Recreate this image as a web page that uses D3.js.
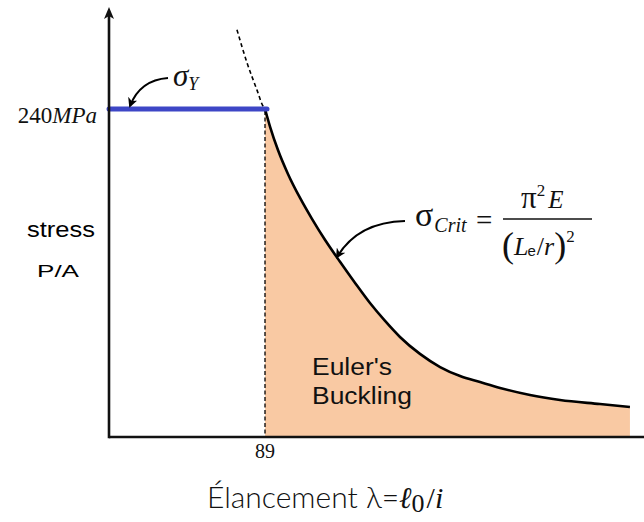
<!DOCTYPE html>
<html>
<head>
<meta charset="utf-8">
<script src="https://cdn.jsdelivr.net/npm/d3@7"></script>
<style>
  html, body { margin: 0; padding: 0; background: #fff; }
  svg { display: block; }
</style>
</head>
<body>
<svg id="chart" width="644" height="522"></svg>
<script>
// Yield plateau and the slenderness where Euler buckling takes over
const yieldStress = 240;      // MPa
const lambdaLimit = 89;

// Euler curve (solid part, below yield): slenderness vs critical stress
const eulerLambda = [89, 91.9, 96.4, 102.1, 109, 115.8, 123.2, 131.8, 140.3, 148.9, 157.5, 166, 177.4, 188.9, 200.3, 211.7, 223.1, 240.2, 257.3, 280.1, 297.2];
const eulerSigma  = [240, 227, 210, 192.5, 174.9, 159.6, 144.3, 128.2, 112.9, 98, 84.9, 73.2, 60.8, 51.2, 44.6, 40.2, 35.9, 30.7, 27.1, 24.1, 21.9];

// Euler curve continued above yield (dashed, not governing)
const dashLambda = [73, 78.7, 84.4, 87.9, 89];
const dashSigma  = [298, 274, 254, 242, 240];

const svg = d3.select("#chart");

const x = d3.scaleLinear().domain([0, 305]).range([109, 109 + 305 * 156 / 89]);
const y = d3.scaleLinear().domain([0, 320]).range([437, 437 - 320 * 328 / 240]);

const eulerPts = eulerLambda.map((l, i) => [l, eulerSigma[i]]);
const dashPts = dashLambda.map((l, i) => [l, dashSigma[i]]);

// Buckling region under the Euler curve
const area = d3.area()
  .x(d => x(d[0]))
  .y0(y(0))
  .y1(d => y(d[1]))
  .curve(d3.curveMonotoneX);
svg.append("path")
  .datum(eulerPts)
  .attr("d", area)
  .attr("fill", "#f9c9a3");

const line = d3.line()
  .x(d => x(d[0]))
  .y(d => y(d[1]))
  .curve(d3.curveMonotoneX);

svg.append("path")
  .datum(eulerPts)
  .attr("d", line)
  .attr("fill", "none")
  .attr("stroke", "#000")
  .attr("stroke-width", 2.6);

svg.append("path")
  .datum(dashPts)
  .attr("d", line)
  .attr("fill", "none")
  .attr("stroke", "#000")
  .attr("stroke-width", 1.6)
  .attr("stroke-dasharray", "4,3");

// Dashed drop from the transition point to the axis
svg.append("line")
  .attr("x1", x(lambdaLimit)).attr("x2", x(lambdaLimit))
  .attr("y1", y(yieldStress) + 2).attr("y2", y(0))
  .attr("stroke", "#000")
  .attr("stroke-width", 1.3)
  .attr("stroke-dasharray", "4,2.5");

// Yield plateau
svg.append("line")
  .attr("x1", x(0)).attr("x2", x(lambdaLimit) + 2)
  .attr("y1", y(yieldStress)).attr("y2", y(yieldStress))
  .attr("stroke", "#3d46c6")
  .attr("stroke-width", 5)
  .attr("stroke-linecap", "round");

// Axes
svg.append("line")
  .attr("x1", x(0)).attr("x2", 644)
  .attr("y1", y(0)).attr("y2", y(0))
  .attr("stroke", "#111").attr("stroke-width", 2.6);
svg.append("line")
  .attr("x1", x(0)).attr("x2", x(0))
  .attr("y1", y(0) + 1.3).attr("y2", 16)
  .attr("stroke", "#111").attr("stroke-width", 2.6);
svg.append("path")
  .attr("d", `M${x(0)},7 L${x(0) - 5},19 L${x(0)},16 L${x(0) + 5},19 Z`)
  .attr("fill", "#111");

// Arrowhead marker for annotation arrows
svg.append("defs").append("marker")
  .attr("id", "ah")
  .attr("viewBox", "0 0 10 10")
  .attr("refX", 8).attr("refY", 5)
  .attr("markerWidth", 5).attr("markerHeight", 5)
  .attr("orient", "auto")
  .attr("markerUnits", "strokeWidth")
  .append("path")
  .attr("d", "M0,0 L10,5 L0,10 L3,5 Z")
  .attr("fill", "#000");

svg.append("path")
  .attr("d", "M168,78 Q140,80 130,106")
  .attr("fill", "none").attr("stroke", "#000").attr("stroke-width", 2)
  .attr("marker-end", "url(#ah)");

svg.append("path")
  .attr("d", "M405,221 Q358,222 337,257")
  .attr("fill", "none").attr("stroke", "#000").attr("stroke-width", 2)
  .attr("marker-end", "url(#ah)");

const serif = "'Liberation Serif', 'Times New Roman', serif";
const sans = "'Liberation Sans', Arial, sans-serif";

// Yield stress tick label
const t240 = svg.append("text")
  .attr("x", 97).attr("y", 123)
  .attr("text-anchor", "end")
  .attr("font-family", serif).attr("font-size", 23).attr("fill", "#111");
t240.append("tspan").text("240");
t240.append("tspan").attr("font-style", "italic").text("MPa");

// σ_Y label
const sy = svg.append("text")
  .attr("x", 173).attr("y", 86)
  .attr("font-family", serif).attr("font-style", "italic").attr("fill", "#111");
sy.append("tspan").attr("font-size", 31).text("σ");
sy.append("tspan").attr("font-size", 18).attr("dy", 4).text("Y");

// Y axis title
svg.append("text")
  .attr("x", 27).attr("y", 237)
  .attr("font-family", sans).attr("font-size", 22)
  .attr("textLength", 68).attr("lengthAdjust", "spacingAndGlyphs")
  .attr("fill", "#000").text("stress");
svg.append("text")
  .attr("x", 37).attr("y", 277)
  .attr("font-family", sans).attr("font-size", 17)
  .attr("textLength", 42).attr("lengthAdjust", "spacingAndGlyphs")
  .attr("fill", "#000").text("P/A");

// Slenderness limit tick
svg.append("text")
  .attr("x", x(lambdaLimit)).attr("y", 458)
  .attr("text-anchor", "middle")
  .attr("font-family", serif).attr("font-size", 20).attr("fill", "#111")
  .text(lambdaLimit);

// Region label
svg.append("text")
  .attr("x", 312).attr("y", 375)
  .attr("font-family", sans).attr("font-size", 23)
  .attr("textLength", 80).attr("lengthAdjust", "spacingAndGlyphs")
  .attr("fill", "#111").text("Euler's");
svg.append("text")
  .attr("x", 312).attr("y", 404)
  .attr("font-family", sans).attr("font-size", 23)
  .attr("textLength", 100).attr("lengthAdjust", "spacingAndGlyphs")
  .attr("fill", "#111").text("Buckling");

// Euler critical stress formula
const f = svg.append("g").attr("font-family", serif).attr("fill", "#111");
const sc = f.append("text").attr("x", 415).attr("y", 226);
sc.append("tspan").attr("font-size", 34).text("σ");
sc.append("tspan").attr("font-size", 20).attr("font-style", "italic").attr("dx", 1).attr("dy", 6).text("Crit");
f.append("text").attr("x", 476).attr("y", 230).attr("font-size", 29).text("=");
f.append("line")
  .attr("x1", 503).attr("x2", 592).attr("y1", 219).attr("y2", 219)
  .attr("stroke", "#111").attr("stroke-width", 1.3);
const num = f.append("text").attr("x", 521).attr("y", 208);
num.append("tspan").attr("font-size", 31).text("π");
num.append("tspan").attr("font-size", 17).attr("dy", -12).text("2");
num.append("tspan").attr("font-size", 25).attr("font-style", "italic").attr("dx", 3).attr("dy", 12).text("E");
const den = f.append("text").attr("x", 502).attr("y", 255);
den.append("tspan").attr("font-size", 36).attr("dy", 2).text("(");
den.append("tspan").attr("font-size", 26).attr("font-style", "italic").attr("dy", -2).text("L");
den.append("tspan").attr("font-size", 15).attr("font-family", sans).attr("dx", -1).attr("dy", 1).text("e");
den.append("tspan").attr("font-size", 26).attr("dx", 1).attr("dy", -1).text("/");
den.append("tspan").attr("font-size", 26).attr("font-style", "italic").text("r");
den.append("tspan").attr("font-size", 36).attr("dy", 2).text(")");
den.append("tspan").attr("font-size", 17).attr("dy", -15).text("2");

// X axis title
const xt = svg.append("text")
  .attr("x", 207).attr("y", 508)
  .attr("font-family", "Lato, 'Open Sans', sans-serif")
  .attr("font-weight", 300)
  .attr("font-size", 30).attr("fill", "#111");
xt.append("tspan").text("Élancement ");
xt.append("tspan").text("λ=");
xt.append("tspan").attr("font-family", serif).attr("font-style", "italic").attr("font-size", 30).text("ℓ");
xt.append("tspan").attr("font-family", serif).attr("font-size", 26).attr("dy", 4).text("0");
xt.append("tspan").attr("font-family", serif).attr("font-size", 30).attr("dx", 2).attr("dy", -4).text("/");
xt.append("tspan").attr("font-family", serif).attr("font-style", "italic").attr("font-size", 30).text("i");
</script>
</body>
</html>
